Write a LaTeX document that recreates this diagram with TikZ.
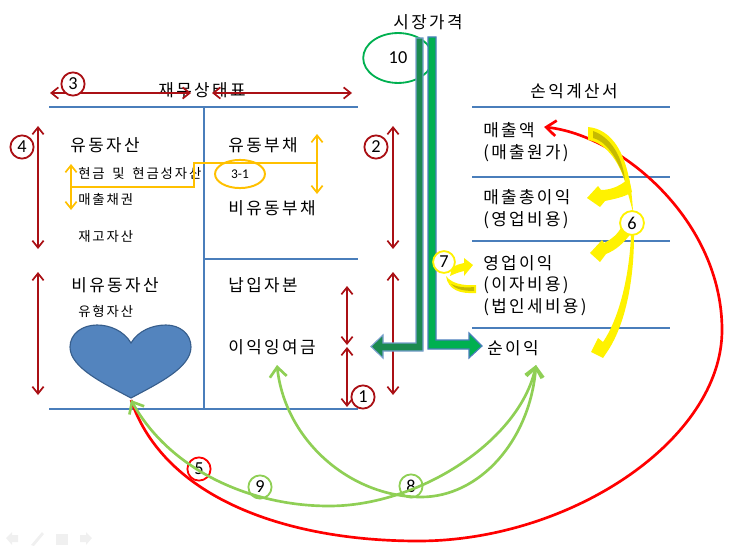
\documentclass[tikz,border=0pt]{standalone}
\usepackage{fontspec}
\setmainfont{Carlito}
\newfontfamily\kr[LetterSpace=14]{Noto Sans CJK KR}
\usetikzlibrary{arrows.meta,shapes.geometric}

\definecolor{barblue}{HTML}{4A7EBB}
\definecolor{darkred}{HTML}{AA1015}
\definecolor{lineorange}{HTML}{FFC000}
\definecolor{leaf}{HTML}{8FCF55}
\definecolor{olive}{HTML}{C6BA00}
\definecolor{darkbar}{HTML}{1B8A50}
\definecolor{lightbar}{HTML}{00B050}

\tikzset{
  bigtxt/.style={inner sep=0pt,font=\fontsize{12pt}{14pt}\selectfont\kr},
  smalltxt/.style={inner sep=0pt,font=\fontsize{9.5pt}{11pt}\selectfont\kr},
  rule/.style={barblue,line width=2.1pt},
  thinrule/.style={barblue,line width=1pt},
  redarrow/.style={darkred,line width=1.2pt,<->,>={Straight Barb[length=5pt,width=8pt,line width=1.2pt]}},
  orangearrow/.style={lineorange,line width=1.2pt,<->,>={Straight Barb[length=5pt,width=8pt,line width=1.2pt]}},
  num/.style={circle,draw=#1,line width=1.3pt,fill=white,minimum size=16.5pt,inner sep=0pt,font=\fontsize{13pt}{14pt}\selectfont},
  leafline/.style={leaf,line width=1.9pt},
  leaftip/.style={>={Straight Barb[length=7pt,width=12pt,line width=1.9pt]}},
  yellowfill/.style={fill=yellow,draw=none},
  nav/.style={fill=black!6,draw=none}
}

\begin{document}
\begin{tikzpicture}[x=0.025cm,y=-0.025cm]
\useasboundingbox (0,0) rectangle (740,551);

% balance sheet
\draw [rule] (49,107) -- (358,107);
\draw [rule] (49,409) -- (358,409);
\draw [rule] (204,107) -- (204,409);
\draw [rule] (204,259) -- (358,259);

\node [bigtxt] (bsTitle) at (202,90) {재무상태표};
\node [bigtxt] (curAsset) at (105,145) {유동자산};
\node [smalltxt,anchor=west] (cash) at (78,173) {현금\hspace{2pt} 및\hspace{2pt} 현금성자산};
\node [smalltxt,anchor=west] (receiv) at (78,199) {매출채권};
\node [smalltxt,anchor=west] (stock) at (78,236) {재고자산};
\node [bigtxt] (fixAsset) at (115,285) {비유동자산};
\node [smalltxt,anchor=west] (tangible) at (78,311) {유형자산};
\node [bigtxt] (curDebt) at (263,145) {유동부채};
\node [bigtxt] (fixDebt) at (272,208) {비유동부채};
\node [bigtxt] (capital) at (263,285) {납입자본};
\node [bigtxt] (retained) at (272,347) {이익잉여금};

\draw [fill=barblue!95!white,draw=barblue!75!black,line width=0.8pt] (131,343) .. controls (124,331) and (110,325) .. (97,325)
  .. controls (82,325) and (70,334) .. (70,347) .. controls (70,368) and (105,384) .. (131,398)
  .. controls (157,384) and (191,368) .. (191,347) .. controls (191,334) and (180,325) .. (166,325)
  .. controls (152,325) and (138,331) .. (131,343) -- cycle;

% dark red ranges
\coordinate (w0) at (50,93);
\coordinate (w1) at (191,93);
\coordinate (w2) at (212,93);
\coordinate (w3) at (352,93);
\draw [redarrow] (w0) -- (w1);
\draw [redarrow] (w2) -- (w3);
\draw [redarrow] (38,126) -- (38,249);
\draw [redarrow] (38,272) -- (38,395);
\draw [redarrow] (347,286) -- (347,345);
\draw [redarrow] (347,347) -- (347,407);
\draw [redarrow] (393,126) -- (393,249);
\draw [redarrow] (393,272) -- (393,395);
\node [num=darkred] (n3) at (73,84) {3};
\node [num=darkred] (n4) at (22,147) {4};
\node [num=darkred] (n2) at (376,147) {2};
\node [num=darkred] (n1) at (363,397) {1};

% 3-1 link
\coordinate (a0) at (71,187);
\coordinate (a1) at (194,163);
\coordinate (a2) at (317,163);
\draw [lineorange,line width=1.2pt] (a0) -| (a1) -- (a2);
\node [draw=lineorange,line width=1.4pt,ellipse,minimum width=35.5pt,minimum height=20pt,inner sep=0pt,font=\fontsize{9.5pt}{10pt}\selectfont] (n31) at (240,174) {3-1};
\draw [orangearrow] (71,164) -- (71,210);
\draw [orangearrow] (317,134) -- (317,194);

% market price
\node [bigtxt] (market) at (428,22) {시장가격};
\node [draw=lightbar,line width=1.3pt,ellipse,minimum width=49.5pt,minimum height=35.5pt,inner sep=0pt,font=\fontsize{13pt}{14pt}\selectfont] (n10) at (398,58) {10};

\draw [fill=darkbar,draw=barblue!75,line width=0.8pt] (416,38) -- (423,38) -- (423,351) -- (383,351) -- (383,358) -- (371,346.5) -- (383,335) -- (383,343) -- (416,343) -- cycle;
\draw [fill=lightbar,draw=barblue,line width=0.8pt] (428,37) -- (436,37) -- (436,340) -- (469,340) -- (469,333) -- (482,346) -- (469,358) -- (469,349) -- (428,349) -- cycle;

% income statement
\draw [rule] (472,107) -- (670,107);
\draw [thinrule] (472,177) -- (670,177);
\draw [thinrule] (472,241) -- (670,241);
\draw [rule] (472,328) -- (670,328);

\node [bigtxt] (isTitle) at (574,91) {손익계산서};
\node [bigtxt,anchor=west] (sales) at (483,130) {매출액};
\node [bigtxt,anchor=west] (cost) at (483,153) {(매출원가)};
\node [bigtxt,anchor=west] (gross) at (483,197) {매출총이익};
\node [bigtxt,anchor=west] (opcost) at (483,220) {(영업비용)};
\node [bigtxt,anchor=west] (opinc) at (483,263) {영업이익};
\node [bigtxt,anchor=west] (interest) at (483,285) {(이자비용)};
\node [bigtxt,anchor=west] (tax) at (483,307) {(법인세비용)};
\node [bigtxt,anchor=west] (net) at (487,348) {순이익};

% circles under the long curves
\node [num=red] (n5) at (199,469) {5};
\node [num=leaf] (n9) at (260,487) {9};
\node [num=leaf] (n8) at (411,486) {8};

% long curves
\coordinate (heartTip) at (131,400);
\coordinate (salesTip) at (544,127);
\coordinate (netTip) at (536,365);
\coordinate (retTip) at (277,365);
\draw [red,line width=1.9pt,-{Straight Barb[length=7pt,width=11pt,line width=1.9pt]}] (heartTip) .. controls (165,500) and (290,541) .. (418,541)
  .. controls (570,541) and (722,440) .. (722,330) .. controls (722,220) and (620,135) .. (salesTip);
\draw [leafline,leaftip,<->] (netTip) .. controls (520,440) and (420,506) .. (329,506)
  .. controls (250,506) and (170,470) .. (heartTip);
\draw [leafline,leaftip,<->] (netTip) .. controls (530,440) and (480,497) .. (421,497)
  .. controls (350,497) and (285,440) .. (retTip);

% yellow flows
\fill [yellowfill] (588,127) .. controls (610,129) and (630,150) .. (633,212) -- (627,190) .. controls (622,165) and (607,143) .. (588,140) -- cycle;
\fill [olive] (593,131) -- (593,138) .. controls (605,141) and (616,155) .. (625,180) .. controls (622,155) and (610,137) .. (593,131) -- cycle;
\fill [yellowfill] (587,198) -- (598,186) -- (601,190) .. controls (612,190) and (622,185) .. (629,178) -- (632,192) .. controls (625,197) and (614,199) .. (605,201) -- (600,207) -- cycle;
\fill [yellowfill] (590,253) -- (602,240) -- (604,243) .. controls (612,239) and (618,234) .. (622,226) -- (632,232) .. controls (624,243) and (616,250) .. (606,254) -- (600,262) -- cycle;
\fill [yellowfill] (591,352) -- (598,338) -- (603,342) .. controls (618,320) and (629,280) .. (631,235) -- (634,235) .. controls (634,285) and (624,325) .. (609,349) -- (603,358) -- cycle;
\node [num=yellow,minimum size=17pt] (n6) at (632,223) {6};

\fill [yellowfill] (473,265) -- (464,258) -- (464,263) .. controls (460,264) and (455,265) .. (452,268) -- (450,276) .. controls (456,273) and (460,272) .. (464,271) -- (464,276) -- cycle;
\fill [yellowfill] (446,276) .. controls (451,283) and (462,286) .. (476,285) -- (476,293) .. controls (460,294) and (448,290) .. (446,276) -- cycle;
\fill [olive] (451,284) .. controls (457,287) and (465,288) .. (474,287) -- (474,291) .. controls (463,291) and (455,289) .. (451,284) -- cycle;
\node [num=yellow,minimum size=15.5pt] (n7) at (444,262) {7};

% slide controls
\fill [nav] (6,538) -- (12,532) -- (12,535) -- (18,535) -- (18,542) -- (12,542) -- (12,545) -- cycle;
\fill [nav] (31,545) -- (42,532) -- (44,534) -- (34,546) -- cycle;
\fill [nav] (56,534) rectangle (68,545);
\fill [nav] (92,538) -- (86,532) -- (86,535) -- (80,535) -- (80,542) -- (86,542) -- (86,545) -- cycle;
\end{tikzpicture}
\end{document}
